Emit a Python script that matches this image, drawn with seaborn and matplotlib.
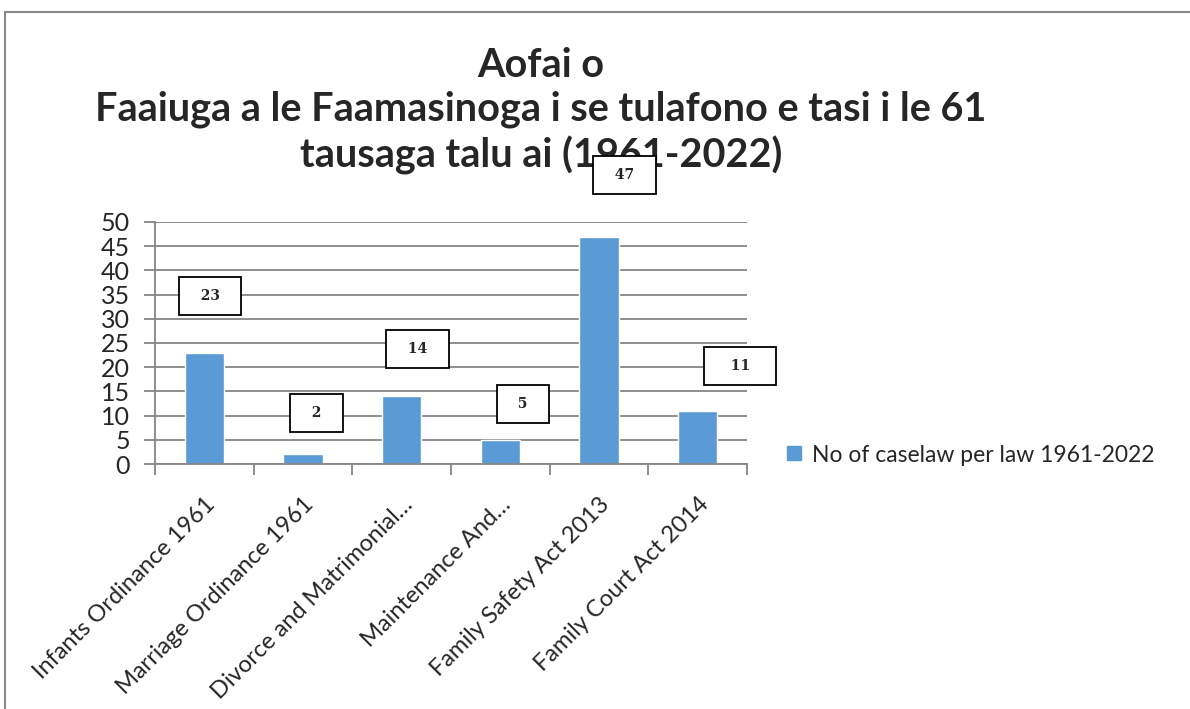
import matplotlib
matplotlib.use("Agg")
import matplotlib.pyplot as plt
import seaborn as sns
import pandas as pd
from matplotlib.patches import Rectangle
from matplotlib.lines import Line2D

categories = ["Infants Ordinance 1961", "Marriage Ordinance 1961", "Divorce and Matrimonial\u2026",
              "Maintenance And\u2026", "Family Safety Act 2013", "Family Court Act 2014"]
values = [23, 2, 14, 5, 47, 11]
series_name = "No of caselaw per law 1961-2022"
title_text = "Aofai o\nFaaiuga a le Faamasinoga i se tulafono e tasi i le 61\ntausaga talu ai (1961-2022)"
yticks = [0, 5, 10, 15, 20, 25, 30, 35, 40, 45, 50]

# label box placement (offsets from bar top / center), layout only
label_dx = [0.06, 0.14, 0.16, 0.23, 0.26, 0.43]
label_dy = [11.7, 8.5, 9.8, 7.4, 12.7, 9.2]
label_space = ["  ", "  ", "  ", "  ", "  ", "   "]

sns.set_style("white")
plt.rcParams["font.family"] = ["Lato", "DejaVu Sans"]

BAR = "#5B9BD5"
GRID = "#868686"

fig = plt.figure(figsize=(11.9, 7.09), dpi=100)
ax = fig.add_axes([155/1190, 1-464/709, 592/1190, 242/709])
ax.set_zorder(5)
ax.patch.set_alpha(0)

df = pd.DataFrame({"cat": categories, "val": values})
sns.barplot(data=df, x="cat", y="val", color=BAR, width=0.4, ax=ax, saturation=1)

ax.set_xlim(-0.5, len(categories) - 0.5)
ax.set_ylim(0, 50)
ax.set_yticks(yticks)
ax.yaxis.grid(True, color=GRID, linewidth=1.3)
ax.set_axisbelow(True)
ax.set_xlabel("")
ax.set_ylabel("")
for s in ["top", "right"]:
    ax.spines[s].set_visible(False)
for s in ["left", "bottom"]:
    ax.spines[s].set_color(GRID)
    ax.spines[s].set_linewidth(1.3)

ax.tick_params(axis="y", which="major", left=True, length=8, width=1.3, color=GRID,
               labelsize=18, pad=10)
ax.set_xticks(range(len(categories)))
ax.set_xticklabels(categories, rotation=45, ha="right", rotation_mode="anchor", fontsize=17)
ax.tick_params(axis="x", which="major", bottom=False, pad=18)
ax.set_xticks([i - 0.5 for i in range(len(categories) + 1)], minor=True)
ax.tick_params(axis="x", which="minor", bottom=True, length=8, width=1.3, color=GRID)

for i, v in enumerate(values):
    sp = label_space[i]
    ax.text(i + label_dx[i], v + label_dy[i], sp + str(v) + sp, ha="center", va="center",
            fontsize=10, fontweight="bold", family="DejaVu Serif", clip_on=False,
            bbox=dict(boxstyle="square,pad=0.85", facecolor="white", edgecolor="black",
                      linewidth=1.3))

fig.text(541/1190, 1-111/709, title_text, ha="center", va="center", fontsize=28.5,
         fontweight="bold", linespacing=1.22, zorder=1)

handle = Line2D([], [], marker="s", linestyle="none", markersize=10,
                markerfacecolor=BAR, markeredgecolor=BAR)
fig.legend([handle], [series_name], loc="center left",
           bbox_to_anchor=(786/1190, 1-455/709), frameon=False, fontsize=16.5,
           handlelength=0.7, handletextpad=0.45, borderaxespad=0, borderpad=0)

# outer chart frame
fig.patches.append(Rectangle((4.5/1190, -0.1), 1.2, 1.1 - 12/709, transform=fig.transFigure,
                             fill=False, edgecolor="#898989", linewidth=1.5))

fig.savefig("out.png", dpi=100, facecolor="white")
